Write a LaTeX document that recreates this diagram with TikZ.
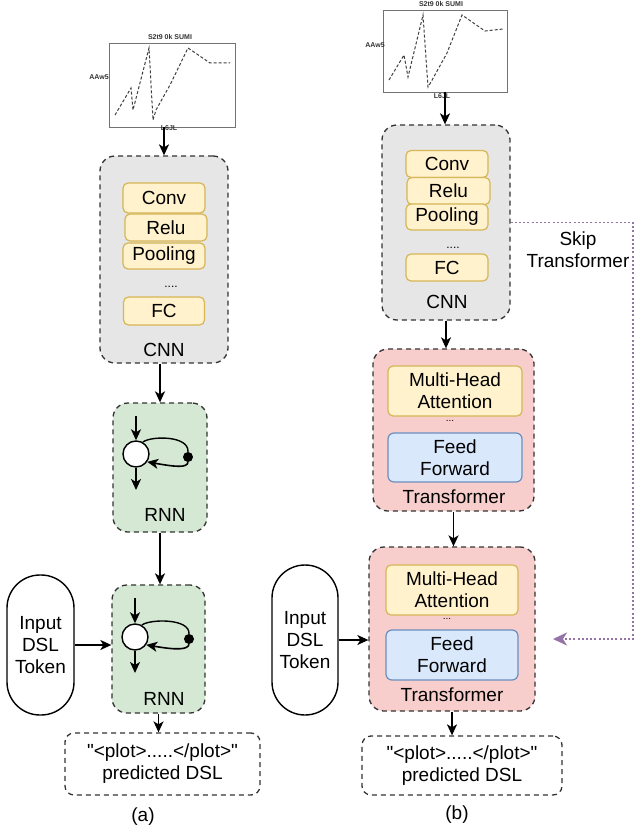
\documentclass[tikz,border=0pt]{standalone}
\usepackage{fontspec}
\setmainfont{Liberation Sans}[Ligatures=TeXOff]
\usetikzlibrary{arrows.meta}
\definecolor{dk}{HTML}{333333}
\definecolor{grayfill}{HTML}{E6E6E6}
\definecolor{yfill}{HTML}{FFF2CC}
\definecolor{ydraw}{HTML}{D6B656}
\definecolor{gfill}{HTML}{D5E8D4}
\definecolor{pfill}{HTML}{F8CECC}
\definecolor{bfill}{HTML}{DAE8FC}
\definecolor{bdraw}{HTML}{6C8EBF}
\definecolor{purp}{HTML}{9673A6}
\begin{document}
\begin{tikzpicture}[x=1pt,y=-1pt,
  txt/.style={font=\fontsize{19}{22}\selectfont, align=center, text=black, inner sep=0pt},
  outer/.style={draw=dk, line width=1.3pt, dash pattern=on 5pt off 4pt, rounded corners=15pt, inner sep=0pt},
  ybox/.style={txt, draw=ydraw, fill=yfill, line width=1.2pt, rounded corners=5pt},
  bbox/.style={txt, draw=bdraw, fill=bfill, line width=1.2pt, rounded corners=6pt},
  stadium/.style={txt, draw=black, line width=1.4pt, rounded corners=33pt, fill=white},
  arr/.style={draw=black, line width=1.6pt, -{Stealth[length=11pt,width=10pt,inset=3pt]}},
  skip/.style={draw=purp, line width=1.8pt, dash pattern=on 2pt off 2.2pt, -{Stealth[length=14pt,width=13pt,inset=4pt,fill=purp]}},
  chartbox/.style={draw=black!55, line width=0.8pt, fill=white, inner sep=0pt},
  chartline/.style={draw=black!75, line width=1pt, dash pattern=on 3pt off 2pt},
  tiny/.style={font=\fontsize{7}{8}\selectfont\bfseries, text=black!80, inner sep=0pt},
  cell/.style={circle, draw=black, fill=white, line width=1.4pt, minimum size=26pt, inner sep=0pt},
  blob/.style={circle, fill=black, minimum size=10pt, inner sep=0pt},
  small/.style={font=\fontsize{12}{12}\selectfont, inner sep=0pt}
]
\useasboundingbox (0,0) rectangle (634,832);

% ================= (a) =================
\node[chartbox, minimum width=126pt, minimum height=84pt] (chartA) at (172,85) {};
\draw[chartline] (115,115) -- (131,88) -- (133,110) -- (149,48) -- (153,120) -- (156,110) -- (170,85) -- (188,48) -- (210,63) -- (230,63);
\node[tiny] (chartAt) at (170,37) {S2t9 0k SUMI};
\node[tiny] (chartAl) at (99,77) {AAw5};
\node[tiny] (chartAb) at (169,128) {L6JL};

\node[outer, fill=grayfill, minimum width=128pt, minimum height=207pt] (cnnA) at (164,259.5) {};
\node[ybox, minimum width=82pt, minimum height=30pt] (convA) at (164,198) {Conv};
\node[ybox, minimum width=82pt, minimum height=27pt] (reluA) at (166,227.5) {Relu};
\node[ybox, minimum width=82pt, minimum height=26pt] (poolA) at (164,256) {Pooling};
\node[small] (dotsA) at (171,287) {....};
\node[ybox, minimum width=81pt, minimum height=28pt] (fcA) at (164,311) {FC};
\node[txt] (cnnAl) at (164,350) {CNN};

\node[outer, fill=gfill, minimum width=94pt, minimum height=129pt] (rnnA1) at (160,467.5) {};
\node[cell] (cA1) at (136,454) {};
\node[blob] (dA1) at (188,457) {};
\coordinate (inA1) at (136,416);
\coordinate (outA1) at (136,490);
\draw[arr] (inA1) -- (cA1.north);
\draw[arr] (cA1.south) -- (outA1);
\draw[line width=1.4pt] (cA1.60) .. controls (150,436) and (189,435) .. (dA1.north);
\draw[arr] (dA1.south) .. controls (187,468) and (176,467) .. (cA1.-35);
\node[txt] (rnnA1l) at (165,515) {RNN};

\node[outer, fill=gfill, minimum width=93pt, minimum height=128pt] (rnnA2) at (158.5,649) {};
\node[cell] (cA2) at (135,637) {};
\node[blob] (dA2) at (189,639) {};
\coordinate (inA2) at (135,598);
\coordinate (outA2) at (135,673);
\draw[arr] (inA2) -- (cA2.north);
\draw[arr] (cA2.south) -- (outA2);
\draw[line width=1.4pt] (cA2.60) .. controls (149,619) and (190,618) .. (dA2.north);
\draw[arr] (dA2.south) .. controls (188,650) and (176,650) .. (cA2.-35);
\node[txt] (rnnA2l) at (164,699) {RNN};

\node[stadium, minimum width=67pt, minimum height=140pt] (inA) at (40.5,645) {Input\\DSL\\Token};
\node[outer, rounded corners=9pt, minimum width=195pt, minimum height=62pt] (outA) at (162.5,764) {};
\node[txt] (outAt) at (162.5,764) {"<plot>.....</plot>"\\predicted DSL};
\node[txt] (capA) at (143,817) {(a)};

\draw[arr] (chartA.south -| cnnA) -- (cnnA.north);
\draw[arr] (cnnA.south -| rnnA1) -- (rnnA1.north);
\draw[arr] (rnnA1.south) -- (rnnA1.south |- rnnA2.north);
\draw[arr] (rnnA2.south) -- (rnnA2.south |- outA.north);
\draw[arr] (inA.east) -- (inA.east -| rnnA2.west);

% ================= (b) =================
\node[chartbox, minimum width=124pt, minimum height=82pt] (chartB) at (445,51) {};
\draw[chartline] (389,80) -- (404,55) -- (408,77) -- (423,15) -- (428,87) -- (431,82) -- (447,53) -- (462,15) -- (485,31) -- (503,29);
\node[tiny] (chartBt) at (441,4) {S2t9 0k SUMI};
\node[tiny] (chartBl) at (375,45) {AAw5};
\node[tiny] (chartBb) at (442,96) {L6JL};

\node[outer, fill=grayfill, minimum width=128pt, minimum height=195pt] (cnnB) at (446,222.5) {};
\node[ybox, minimum width=82pt, minimum height=27pt] (convB) at (447,164) {Conv};
\node[ybox, minimum width=83pt, minimum height=27pt] (reluB) at (448.5,191) {Relu};
\node[ybox, minimum width=82pt, minimum height=26pt] (poolB) at (447,217) {Pooling};
\node[small] (dotsB) at (453,248) {....};
\node[ybox, minimum width=82pt, minimum height=27pt] (fcB) at (447,267.5) {FC};
\node[txt] (cnnBl) at (447,302) {CNN};

\node[outer, fill=pfill, minimum width=161pt, minimum height=162pt] (tfB1) at (453.5,430) {};
\node[ybox, minimum width=134pt, minimum height=50pt] (mhaB1) at (455,391) {Multi-Head\\Attention};
\node[small, font=\fontsize{10}{10}\selectfont] (dotsB1) at (450,421) {...};
\node[bbox, minimum width=134pt, minimum height=49pt] (ffB1) at (455,457.5) {Feed\\Forward};
\node[txt] (tfB1l) at (454,497) {Transformer};

\node[outer, fill=pfill, minimum width=166pt, minimum height=164pt] (tfB2) at (452,629) {};
\node[ybox, minimum width=132pt, minimum height=50pt] (mhaB2) at (452,590) {Multi-Head\\Attention};
\node[small, font=\fontsize{10}{10}\selectfont] (dotsB2) at (447,619) {...};
\node[bbox, minimum width=132pt, minimum height=50pt] (ffB2) at (452,655) {Feed\\Forward};
\node[txt] (tfB2l) at (452,695) {Transformer};

\node[stadium, minimum width=66pt, minimum height=150pt] (inB) at (305,640) {Input\\DSL\\Token};
\node[outer, rounded corners=9pt, minimum width=200pt, minimum height=59pt] (outB) at (462,765.5) {};
\node[txt] (outBt) at (462,765.5) {"<plot>.....</plot>"\\predicted DSL};
\node[txt] (capB) at (457,815) {(b)};

\node[txt] (skipl) at (578,250) {Skip\\Transformer};
\coordinate (skipR) at (633,639);
\coordinate (skipEnd) at (553,639);

\draw[arr] (chartB.south) -- (chartB.south |- cnnB.north);
\draw[arr] (cnnB.south) -- (cnnB.south |- tfB1.north);
\draw[arr] (tfB1.south) -- (tfB1.south |- tfB2.north);
\draw[arr] (tfB2.south) -- (tfB2.south |- outB.north);
\draw[arr] (inB.east) -- (inB.east -| tfB2.west);
\draw[skip] (cnnB.east) -| (skipR) -- (skipEnd);
\end{tikzpicture}
\end{document}
